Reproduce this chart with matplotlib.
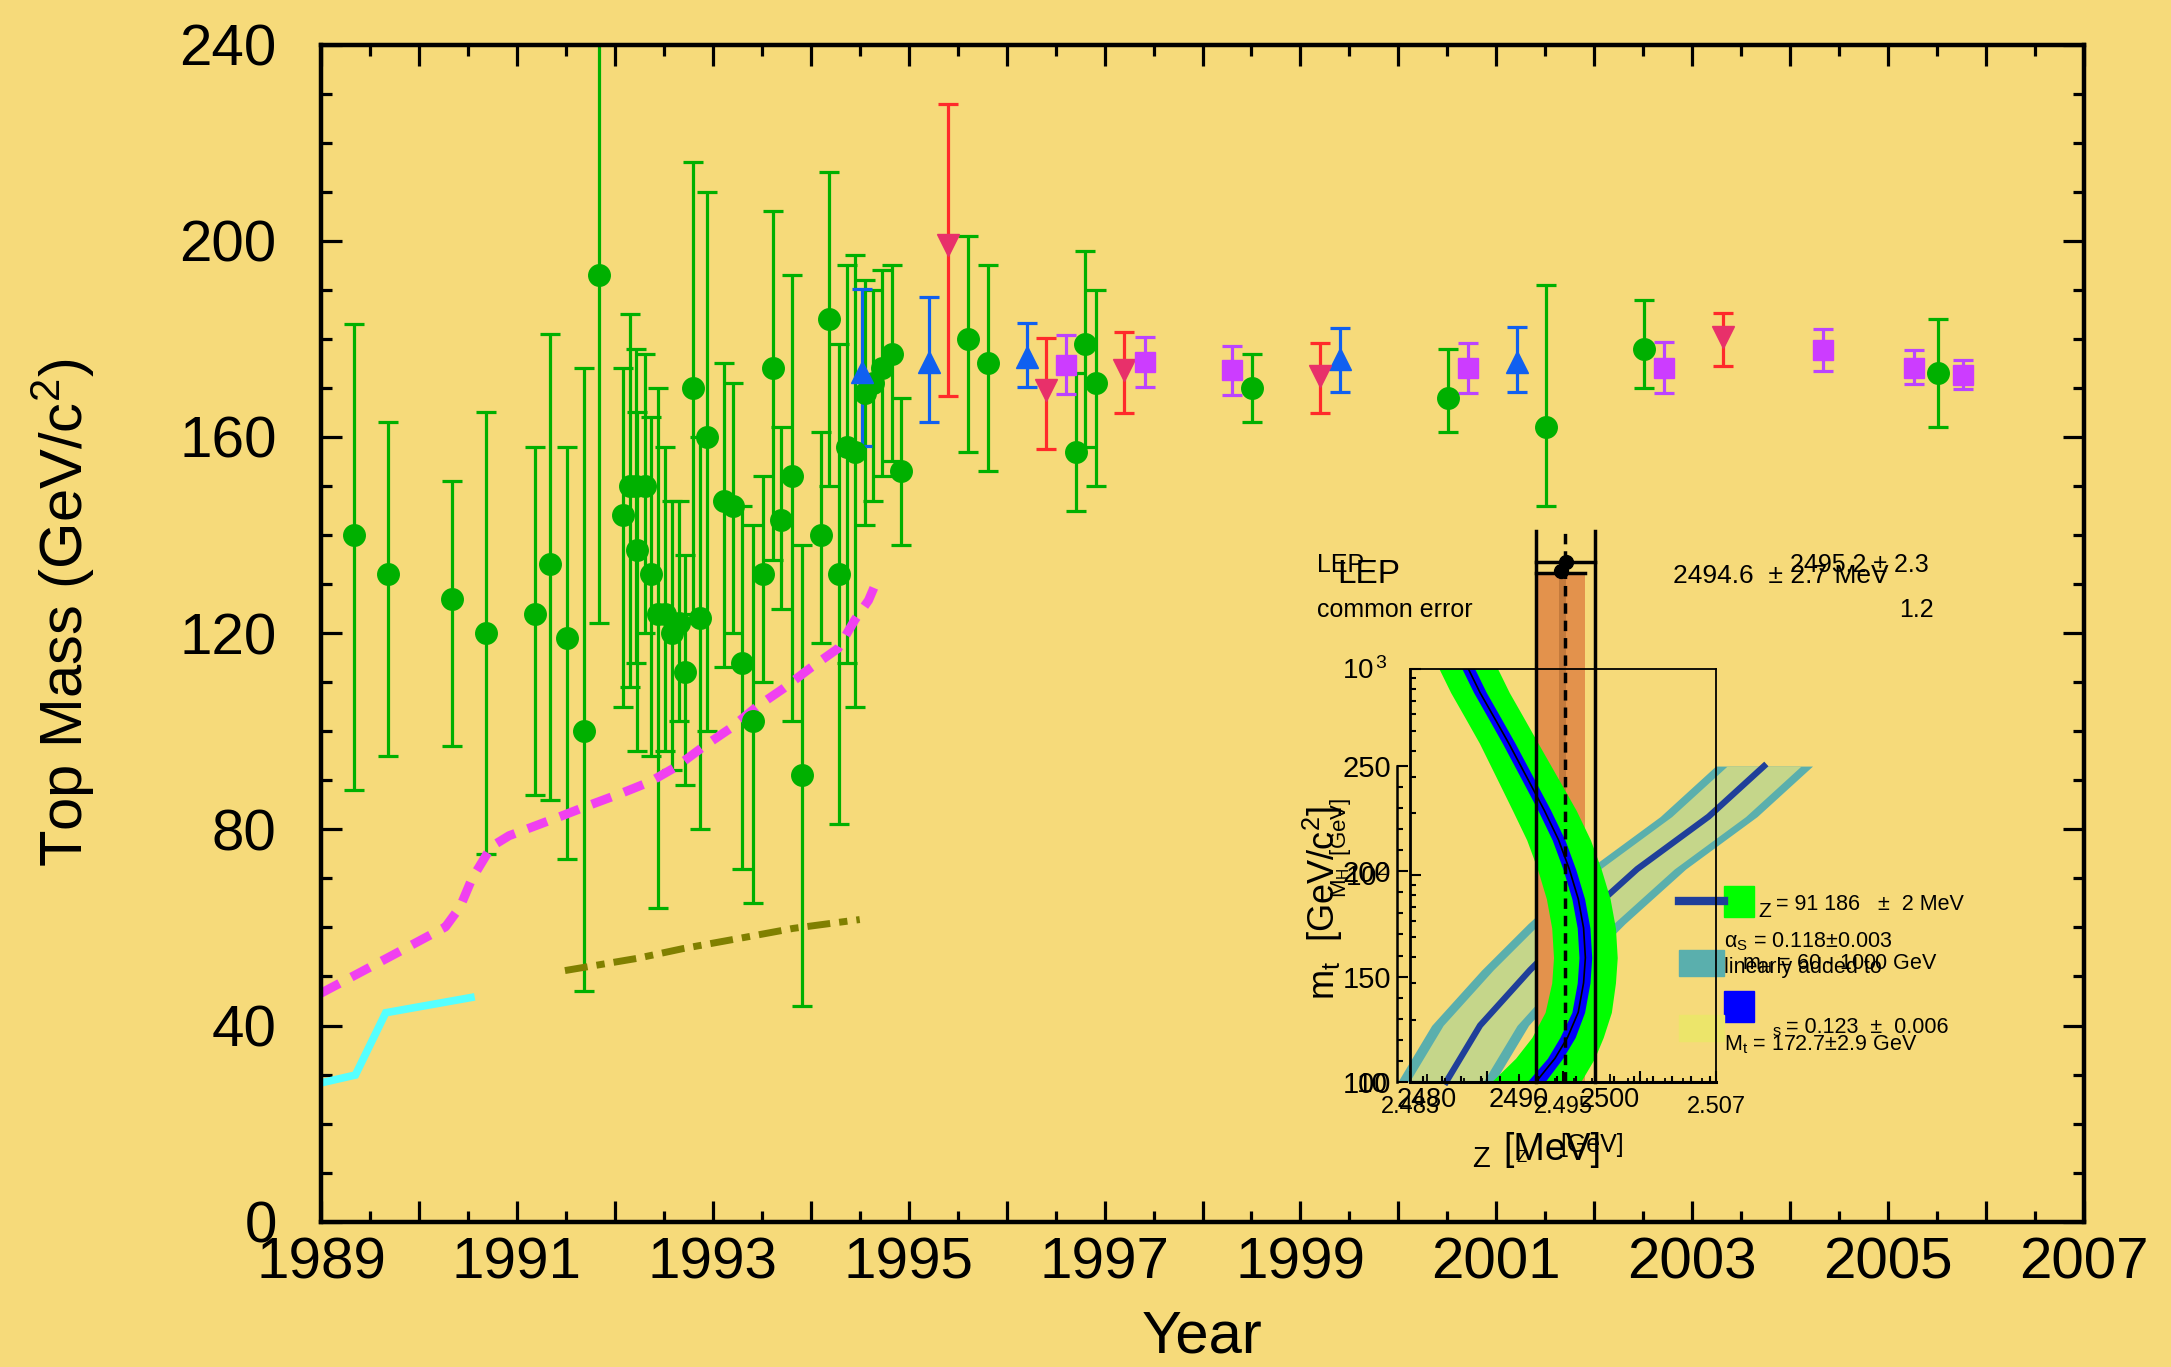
import matplotlib.pyplot as plt
from matplotlib.ticker import MultipleLocator, FuncFormatter, NullFormatter, LogLocator, FixedLocator
from matplotlib.patches import Rectangle
from matplotlib.lines import Line2D
import numpy as np

plt.rcParams['font.family'] = ['Liberation Sans', 'DejaVu Sans']
plt.rcParams['mathtext.fontset'] = 'custom'
plt.rcParams['mathtext.rm'] = 'Liberation Sans'
plt.rcParams['mathtext.it'] = 'Liberation Sans:italic'
plt.rcParams['mathtext.default'] = 'regular'

BG = '#f6da7a'

# ---- main plot data: year, mass, upper end, lower end ----
green_year = [1989.34, 1989.68, 1990.34, 1990.68, 1991.18, 1991.34, 1991.51, 1991.68, 1991.84,
              1992.08, 1992.15, 1992.22, 1992.23, 1992.31, 1992.37, 1992.44, 1992.51, 1992.58,
              1992.65, 1992.72, 1992.80, 1992.87, 1992.94, 1993.11, 1993.21, 1993.30, 1993.41,
              1993.51, 1993.61, 1993.70, 1993.81, 1993.91, 1994.10, 1994.19, 1994.29, 1994.37,
              1994.45, 1994.55, 1994.64, 1994.73, 1994.83, 1994.92, 1995.61, 1995.81, 1996.71,
              1996.80, 1996.91, 1998.51, 2000.51, 2001.51, 2002.51, 2005.51]
green_mass = [140, 132, 127, 120, 124, 134, 119, 100, 193,
              144, 150, 150, 137, 150, 132, 124, 124, 120,
              122, 112, 170, 123, 160, 147, 146, 114, 102,
              132, 174, 143, 152, 91, 140, 184, 132, 158,
              157, 169, 171, 174, 177, 153, 180, 175, 157,
              179, 171, 170, 168, 162, 178, 173]
green_hi = [183, 163, 151, 165, 158, 181, 158, 174, 250,
            174, 185, 178, 165, 177, 164, 170, 158, 147,
            147, 136, 216, 160, 210, 175, 171, 146, 142,
            152, 206, 162, 193, 138, 161, 214, 179, 195,
            197, 192, 190, 194, 195, 168, 201, 195, 173,
            198, 190, 177, 178, 191, 188, 184]
green_lo = [88, 95, 97, 75, 87, 86, 74, 47, 122,
            105, 109, 114, 96, 120, 95, 64, 96, 92,
            102, 89, 124, 80, 100, 113, 120, 72, 65,
            110, 135, 125, 102, 44, 118, 150, 81, 114,
            105, 142, 147, 152, 155, 138, 157, 153, 145,
            158, 150, 163, 161, 146, 170, 162]

blue_year = [1994.52, 1995.21, 1996.21, 1999.40, 2001.21]
blue_mass = [173.3, 175.3, 176.4, 175.8, 175.3]
blue_hi = [190.1, 188.6, 183.2, 182.3, 182.4]
blue_lo = [158.2, 163.1, 170.1, 169.2, 169.2]

red_year = [1995.40, 1996.40, 1997.20, 1999.20, 2003.31]
red_mass = [199.1, 169.6, 173.6, 172.4, 180.3]
red_hi = [227.9, 180.1, 181.4, 179.1, 185.3]
red_lo = [168.4, 157.5, 164.8, 164.8, 174.5]

mag_year = [1996.61, 1997.41, 1998.30, 2000.71, 2002.71, 2004.34, 2005.26, 2005.76]
mag_mass = [174.7, 175.2, 173.6, 174.0, 174.0, 177.7, 174.0, 172.6]
mag_hi = [180.8, 180.4, 178.6, 179.2, 179.3, 182.1, 177.7, 175.7]
mag_lo = [168.7, 170.2, 168.5, 169.0, 168.9, 173.4, 170.7, 169.7]

cyan_year = [1989.0, 1989.35, 1989.66, 1990.53]
cyan_mass = [28.3, 29.9, 42.6, 45.7]

pink_year = [1989.0, 1989.35, 1989.68, 1990.27, 1990.42, 1990.54, 1990.74, 1990.92, 1991.44,
             1991.75, 1992.06, 1992.36, 1992.63, 1992.90, 1993.18, 1993.45, 1993.72, 1993.99,
             1994.28, 1994.45, 1994.59, 1994.66]
pink_mass = [46.6, 50.3, 53.8, 60.1, 64.2, 69.9, 76.5, 78.7, 82.6,
             85.0, 87.3, 89.7, 92.8, 96.8, 100.6, 105.0, 108.7, 112.8,
             116.9, 122.7, 126.7, 130.0]

olive_year = [1991.49, 1992.23, 1992.70, 1993.28, 1993.82, 1994.50]
olive_mass = [51.2, 53.7, 55.7, 57.8, 59.8, 61.6]

# ---- inset data ----
# green/blue band: Gamma_Z [GeV] vs M_H [GeV]
band_mh = [1000, 766, 578, 436, 300, 206, 148, 107, 76.9, 55.5, 39.9, 30.1, 21.7, 16.4, 13.0, 10]
band_gz = [2.48753, 2.48845, 2.48958, 2.49070, 2.49210, 2.49350, 2.49462, 2.49546, 2.49616,
           2.49658, 2.49672, 2.49658, 2.49616, 2.49532, 2.49434, 2.49285]
green_hw = [0.0023, 0.0023, 0.0023, 0.0023, 0.0024, 0.0025, 0.0025, 0.0025, 0.0025,
            0.0025, 0.0025, 0.0025, 0.0026, 0.0028, 0.0031, 0.0035]
blue_hw = [0.0005, 0.0005, 0.0005, 0.0005, 0.0005, 0.0005, 0.0005, 0.0005, 0.0005,
           0.0005, 0.0005, 0.0005, 0.0005, 0.0006, 0.0006, 0.0007]
# teal band: Gamma_Z [GeV] vs m_t [GeV]
teal_mt = [100, 126.8, 153.1, 175.1, 201.1, 226, 250]
teal_gz = [2.48580, 2.48846, 2.49238, 2.49602, 2.50079, 2.50639, 2.51074]
teal_outer = 0.0038
teal_inner = 0.0029
lep_lo, lep_hi, lep_c = 2.49288, 2.49747, 2.49512
orange_lo, orange_hi, orange_top = 2.49294, 2.49672, 2911
dark_lo, dark_hi = 2.49462, 2.49518
dots_gz = [2.49518, 2.49482]
dots_mh = [3278, 2958]
line_top = 4656
cap1_mh = 3273

fig = plt.figure(figsize=(21.71, 13.67), dpi=100)
fig.patch.set_facecolor(BG)

ax = fig.add_axes([0.1479, 0.1063, 0.8120, 0.8611])
ax.set_facecolor('none')


def draw_points(x, y, hi, lo, fmt, mcol, ecol, ms):
    y = np.array(y)
    yerr = [y - np.array(lo), np.array(hi) - y]
    ax.errorbar(x, y, yerr=yerr, fmt=fmt, ms=ms, mfc=mcol, mec=mcol,
                ecolor=ecol, elinewidth=2.3, capsize=7, capthick=2.3)


draw_points(green_year, green_mass, green_hi, green_lo, 'o', '#00b000', '#00b000', 15.5)
ax.plot(cyan_year, cyan_mass, color='#55ffff', lw=5.5, solid_joinstyle='miter')
ax.plot(pink_year, pink_mass, color='#f040f0', lw=6.5, dashes=(2.3, 1.5))
ax.plot(olive_year, olive_mass, color='#808000', lw=5, dashes=(3.3, 1.3, 1.2, 1.3))
draw_points(blue_year, blue_mass, blue_hi, blue_lo, '^', '#1060f0', '#1060f0', 16)
draw_points(red_year, red_mass, red_hi, red_lo, 'v', '#e8306a', '#ff2a2a', 16)
draw_points(mag_year, mag_mass, mag_hi, mag_lo, 's', '#cc3cff', '#bb44ff', 14)

ax.set_xlim(1989, 2007)
ax.set_ylim(0, 240)
ax.xaxis.set_major_locator(MultipleLocator(1))
ax.xaxis.set_minor_locator(MultipleLocator(0.5))
ax.xaxis.set_major_formatter(FuncFormatter(lambda v, p: str(int(round(v))) if int(round(v)) % 2 == 1 else ''))
ax.yaxis.set_major_locator(MultipleLocator(40))
ax.yaxis.set_minor_locator(MultipleLocator(10))
ax.tick_params(which='both', direction='in', top=True, right=True, width=2.3, colors='black')
ax.tick_params(which='major', length=15)
ax.tick_params(which='minor', length=8)
ax.tick_params(axis='x', which='major', labelsize=42, pad=11)
ax.tick_params(axis='y', which='major', labelsize=42, pad=32)
for s in ax.spines.values():
    s.set_linewidth(3.2)
ax.set_xlabel('Year', fontsize=43)
ax.set_ylabel('Top Mass (GeV/c$^2$)', fontsize=43)
ax.xaxis.set_label_coords(0.5, -0.075)
ax.yaxis.set_label_coords(-0.127, 0.517)

# ---- inset ----
pos = [0.6497, 0.2086, 0.1409, 0.3023]
ax_mt = fig.add_axes(pos)
ax_mt.set_facecolor('none')
ax_mt.set_xlim(2.483, 2.507)
ax_mt.set_ylim(100, 296.3)
tg = np.array(teal_gz)
ax_mt.fill_betweenx(teal_mt, tg - teal_outer, tg + teal_outer, color='#5aafad', lw=0, clip_on=False)
ax_mt.fill_betweenx(teal_mt, tg - teal_inner, tg + teal_inner, color='#c5d68a', lw=0, clip_on=False)
ax_mt.plot(teal_gz, teal_mt, color='#1f3f9a', lw=4.5, clip_on=False)
for k in ['top', 'right', 'bottom']:
    ax_mt.spines[k].set_visible(False)
ax_mt.spines['left'].set_position(('outward', 10))
ax_mt.spines['left'].set_bounds(100, 250)
ax_mt.spines['left'].set_linewidth(1.8)
ax_mt.set_xticks([])
ax_mt.yaxis.set_major_locator(FixedLocator([100, 150, 200, 250]))
ax_mt.yaxis.set_minor_locator(FixedLocator([110, 120, 130, 140, 160, 170, 180, 190, 210, 220, 230, 240]))
ax_mt.tick_params(axis='y', which='both', direction='in', width=1.5)
ax_mt.tick_params(axis='y', which='major', length=8, labelsize=21, pad=4)
ax_mt.tick_params(axis='y', which='minor', length=4)

ax_in = fig.add_axes(pos)
ax_in.set_facecolor('none')
ax_in.set_xlim(2.483, 2.507)
ax_in.set_yscale('log')
ax_in.set_ylim(10, 1000)
ax_in.fill_betweenx([10, orange_top], orange_lo, orange_hi, color='#e3924c', lw=0, clip_on=False)
ax_in.fill_betweenx([10, orange_top], dark_lo, dark_hi, color='#c47a3c', lw=0, clip_on=False)
bg = np.array(band_gz)
ax_in.fill_betweenx(band_mh, bg - np.array(green_hw), bg + np.array(green_hw), color='#00ff00', lw=0)
ax_in.fill_betweenx(band_mh, bg - np.array(blue_hw), bg + np.array(blue_hw), color='#0000ff', lw=0)
ax_in.plot(band_gz, band_mh, color='black', lw=1.2)
ax_in.plot([lep_lo, lep_lo], [10, line_top], color='black', lw=2.5, clip_on=False)
ax_in.plot([lep_hi, lep_hi], [10, line_top], color='black', lw=2.5, clip_on=False)
ax_in.plot([lep_c, lep_c], [10, line_top], color='black', lw=2.5, dashes=(3, 2), clip_on=False)
ax_in.plot([lep_lo, lep_hi], [cap1_mh, cap1_mh], color='black', lw=2.5, clip_on=False)
ax_in.plot([lep_lo, orange_hi], [orange_top, orange_top], color='black', lw=2.5, clip_on=False)
ax_in.plot(dots_gz, dots_mh, 'o', color='black', ms=10, clip_on=False)

for s in ax_in.spines.values():
    s.set_linewidth(1.3)
ax_in.spines['bottom'].set_linewidth(2.2)
ax_in.spines['left'].set_linewidth(2.0)
ax_in.set_xticks([2.483, 2.489, 2.495, 2.501, 2.507])
ax_in.set_xticklabels(['2.483', '', '2.495', '', '2.507'])
ax_in.xaxis.set_minor_locator(MultipleLocator(0.0015))
ax_in.set_yticks([10, 100, 1000])
ax_in.set_yticklabels(['10', '$10^{2}$', '$10^{\\,3}$'])
ax_in.yaxis.set_minor_locator(LogLocator(base=10, subs=range(2, 10)))
ax_in.yaxis.set_minor_formatter(NullFormatter())
ax_in.tick_params(which='both', direction='in', width=1.5)
ax_in.tick_params(which='major', length=8)
ax_in.tick_params(which='minor', length=4)
ax_in.tick_params(axis='x', labelsize=17, pad=10)
ax_in.tick_params(axis='y', labelsize=20, pad=16)

ax_mev = ax_in.twiny()
ax_mev.set_xlim(2478.2, 2511.6)
ax_mev.xaxis.set_ticks_position('bottom')
ax_mev.xaxis.set_label_position('bottom')
ax_mev.set_xticks([2480, 2490, 2500])
ax_mev.xaxis.set_minor_locator(MultipleLocator(2))
ax_mev.tick_params(which='both', direction='in', width=1.3)
ax_mev.tick_params(which='major', length=6, labelsize=19.5, pad=4)
ax_mev.tick_params(which='minor', length=3)
for s in ax_mev.spines.values():
    s.set_visible(False)

T = ax_in.transAxes
kw = dict(transform=T, clip_on=False, color='black')
ax_in.text(-0.306, 1.234, 'LEP', fontsize=18, **kw)
ax_in.text(-0.238, 1.207, 'LEP', fontsize=24, **kw)
ax_in.text(-0.306, 1.124, 'common error', fontsize=18, **kw)
ax_in.text(0.857, 1.207, '2494.6  \u00b1 2.7 MeV', fontsize=19, **kw)
ax_in.text(1.241, 1.234, '2495.2 \u00b1 2.3', fontsize=18, **kw)
ax_in.text(1.599, 1.124, '1.2', fontsize=18, **kw)

ax_in.text(0.200, -0.205, 'Z', fontsize=21, **kw)
ax_in.text(0.305, -0.188, '[MeV]', fontsize=27, **kw)
ax_in.text(0.348, -0.194, 'Z', fontsize=12, **kw)
ax_in.text(0.489, -0.170, '[GeV]', fontsize=18, **kw)
ax_in.text(-0.288, 0.433, 'm$_{t}$  [GeV/c$^{2}$]', fontsize=26, rotation=90,
           ha='center', va='center', **kw)
ax_in.text(-0.229, 0.567, 'M$_{H}$  [GeV]', fontsize=16, rotation=90,
           ha='center', va='center', **kw)

# legend of the inset
ax_in.add_line(Line2D([0.879, 1.024], [0.437, 0.437], transform=T, color='#1f3f9a', lw=6, clip_on=False))
ax_in.add_patch(Rectangle((1.024, 0.400), 0.100, 0.074, transform=T, color='#00ff00', clip_on=False))
ax_in.add_patch(Rectangle((0.879, 0.256), 0.145, 0.064, transform=T, color='#5aafad', clip_on=False))
ax_in.add_patch(Rectangle((1.024, 0.145), 0.100, 0.074, transform=T, color='#0000ff', clip_on=False))
ax_in.add_patch(Rectangle((0.879, 0.098), 0.145, 0.064, transform=T, color='#ece56a', clip_on=False))
ax_in.text(1.137, 0.400, 'Z', fontsize=15, **kw)
ax_in.text(1.196, 0.417, '= 91 186   \u00b1  2 MeV', fontsize=15.5, **kw)
ax_in.text(1.024, 0.326, '\u03b1$_{S}$ = 0.118\u00b10.003', fontsize=15.5, **kw)
ax_in.text(1.083, 0.273, 'm$_{H}$ = 60 - 1000 GeV', fontsize=15.5, **kw)
ax_in.text(1.024, 0.263, 'linearly added to', fontsize=15.5, **kw)
ax_in.text(1.183, 0.112, 's', fontsize=12, **kw)
ax_in.text(1.228, 0.119, '= 0.123  \u00b1  0.006', fontsize=15.5, **kw)
ax_in.text(1.024, 0.075, 'M$_{t}$ = 172.7\u00b12.9 GeV', fontsize=15.5, **kw)

fig.savefig('out.png', dpi=100, facecolor=BG)
